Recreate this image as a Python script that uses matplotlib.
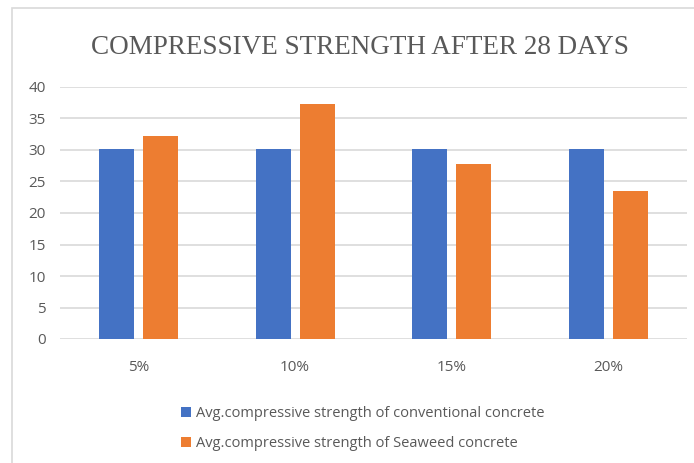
import matplotlib.pyplot as plt
import numpy as np
from matplotlib.patches import Rectangle

categories = ['5%', '10%', '15%', '20%']
conventional = [30.1, 30.1, 30.1, 30.1]
seaweed = [32.3, 37.3, 27.7, 23.5]
labels = ['Avg.compressive strength of conventional concrete',
          'Avg.compressive strength of Seaweed concrete']

fig = plt.figure(figsize=(6.94, 4.63), dpi=100)
ax = fig.add_axes([60 / 694, 1 - 339 / 463, 627 / 694, 252 / 463])

# chart border (only left and top edges fall inside the image)
fig.patches.append(Rectangle((12 / 694, -0.1), 1.2, 1 - 8 / 463 + 0.1,
                             transform=fig.transFigure, fill=False,
                             edgecolor='#d9d9d9', linewidth=1.2))

x = np.arange(len(categories))
w = 0.223
ax.bar(x - 0.14, conventional, w, color='#4472C4', label=labels[0], zorder=3)
ax.bar(x + 0.14, seaweed, w, color='#ED7D31', label=labels[1], zorder=3)

ax.set_xlim(-0.5, 3.5)
ax.set_ylim(0, 40)
ax.set_yticks(range(0, 41, 5))
ax.set_xticks(x)
ax.set_xticklabels(categories)
ax.yaxis.grid(True, color='#d9d9d9', linewidth=1.2, zorder=0)
for s in ax.spines.values():
    s.set_visible(False)
ax.tick_params(length=0, labelsize=11, labelcolor='#595959', pad=10)
ax.tick_params(axis='x', pad=15)
for t in ax.get_xticklabels() + ax.get_yticklabels():
    t.set_family('Open Sans')

fig.text(360 / 694, 1 - 47 / 463, 'COMPRESSIVE STRENGTH AFTER 28 DAYS',
         ha='center', va='center', fontsize=19.5, color='#595959',
         family='Liberation Serif')

fig.legend(loc='upper left', bbox_to_anchor=(168 / 694, 1 - 393 / 463),
           frameon=False, ncol=1, handlelength=0.7, handleheight=0.7,
           handletextpad=0.3, labelspacing=1.0,
           prop={'family': 'Open Sans', 'size': 10.5}, labelcolor='#595959')

fig.savefig('out.png', dpi=100)
